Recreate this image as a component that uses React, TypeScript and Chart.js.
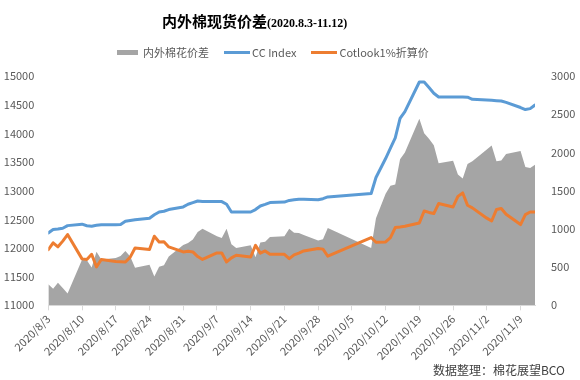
import React, { useEffect, useRef } from 'react';
import { Chart, registerables } from 'chart.js';

Chart.register(...registerables);

const FONT = '"Noto Sans CJK SC", "Noto Sans", sans-serif';

const dates = [
  '2020/8/3', '2020/8/4', '2020/8/5', '2020/8/6', '2020/8/7',
  '2020/8/10', '2020/8/11', '2020/8/12', '2020/8/13', '2020/8/14',
  '2020/8/17', '2020/8/18', '2020/8/19', '2020/8/20', '2020/8/21',
  '2020/8/24', '2020/8/25', '2020/8/26', '2020/8/27', '2020/8/28',
  '2020/8/31', '2020/9/1', '2020/9/2', '2020/9/3', '2020/9/4',
  '2020/9/7', '2020/9/8', '2020/9/9', '2020/9/10', '2020/9/11',
  '2020/9/14', '2020/9/15', '2020/9/16', '2020/9/17', '2020/9/18',
  '2020/9/21', '2020/9/22', '2020/9/23', '2020/9/24', '2020/9/25',
  '2020/9/28', '2020/9/29', '2020/9/30',
  '2020/10/9', '2020/10/10',
  '2020/10/12', '2020/10/13', '2020/10/14', '2020/10/15', '2020/10/16',
  '2020/10/19', '2020/10/20', '2020/10/21', '2020/10/22', '2020/10/23',
  '2020/10/26', '2020/10/27', '2020/10/28', '2020/10/29', '2020/10/30',
  '2020/11/2', '2020/11/3', '2020/11/4', '2020/11/5', '2020/11/6',
  '2020/11/9', '2020/11/10', '2020/11/11', '2020/11/12',
];

const spread = [
  275, 215, 295, 225, 155,
  595, 590, 495, 700, 600,
  620, 645, 710, 640, 490,
  530, 378, 505, 525, 640,
  790, 815, 860, 960, 1000,
  905, 880, 1000, 800, 750,
  785, 630, 820, 830, 895,
  905, 1000, 950, 945, 920,
  848, 865, 1010,
  750, 1140,
  1460, 1565, 1580, 1910, 2000,
  2440, 2250, 2180, 2095, 1860,
  1890, 1710, 1660, 1850, 1885,
  2040, 2090, 1885, 1895, 1980,
  2020, 1810, 1795, 1840,
];

const ccIndex = [
  12262, 12321, 12330, 12345, 12390,
  12415, 12388, 12380, 12395, 12405,
  12405, 12408, 12465, 12480, 12492,
  12518, 12580, 12628, 12640, 12670,
  12716, 12762, 12790, 12820, 12809,
  12809, 12809, 12762, 12628, 12628,
  12628, 12670, 12733, 12760, 12792,
  12800, 12830, 12840, 12850, 12850,
  12840, 12860, 12890,
  12950, 13230,
  13560, 13740, 13920, 14260, 14380,
  14895, 14895, 14800, 14700, 14634,
  14634, 14634, 14634, 14630, 14594,
  14580, 14576, 14570, 14564, 14540,
  14450, 14414, 14431, 14494,
];

const cotlook = [
  11970, 12090, 12020, 12120, 12234,
  11810, 11798, 11890, 11669, 11798,
  11765, 11760, 11755, 11840, 12000,
  11975, 12204, 12105, 12110, 12018,
  11931, 11943, 11931, 11850, 11800,
  11913, 11913, 11756, 11828, 11873,
  11843, 12047, 11910, 11948, 11890,
  11890, 11815, 11880, 11910, 11948,
  11990, 11980, 11856,
  12182, 12100,
  12105, 12180, 12356, 12367, 12380,
  12437, 12646, 12620, 12600, 12775,
  12716, 12900, 12960, 12745, 12700,
  12520, 12471, 12670, 12687, 12588,
  12408, 12583, 12628, 12628,
];

const tickLabels = [
  '2020/8/3', '2020/8/10', '2020/8/17', '2020/8/24', '2020/8/31',
  '2020/9/7', '2020/9/14', '2020/9/21', '2020/9/28', '2020/10/5',
  '2020/10/12', '2020/10/19', '2020/10/26', '2020/11/2', '2020/11/9',
];

const seriesNames = ['内外棉花价差', 'CC Index', 'Cotlook1%折算价'];
const seriesColors = ['#a5a5a5', '#5b9bd5', '#ed7d31'];

const toDay = (s: string) => {
  const [y, m, d] = s.split('/').map(Number);
  const [y0, m0, d0] = dates[0].split('/').map(Number);
  return Math.round((Date.UTC(y, m - 1, d) - Date.UTC(y0, m0 - 1, d0)) / 86400000);
};
const lastDay = toDay(dates[dates.length - 1]);
const points = (vals: number[]) => dates.map((d, i) => ({ x: toDay(d), y: vals[i] }));

export default function App() {
  const ref = useRef<HTMLCanvasElement>(null);
  useEffect(() => {
    const tickFont = { family: FONT, size: 11 };
    const chart = new Chart(ref.current!, {
      type: 'line',
      data: {
        datasets: [
          {
            label: seriesNames[0],
            data: points(spread),
            yAxisID: 'y1',
            fill: 'origin',
            backgroundColor: seriesColors[0],
            borderColor: 'rgba(0,0,0,0)',
            borderWidth: 0,
            pointRadius: 0,
            tension: 0,
            order: 3,
          },
          {
            label: seriesNames[1],
            data: points(ccIndex),
            yAxisID: 'y',
            fill: false,
            borderColor: seriesColors[1],
            borderWidth: 3,
            borderJoinStyle: 'round',
            borderCapStyle: 'round',
            pointRadius: 0,
            tension: 0,
            order: 2,
          },
          {
            label: seriesNames[2],
            data: points(cotlook),
            yAxisID: 'y',
            fill: false,
            borderColor: seriesColors[2],
            borderWidth: 3,
            borderJoinStyle: 'round',
            borderCapStyle: 'round',
            pointRadius: 0,
            tension: 0,
            order: 1,
          },
        ],
      },
      options: {
        responsive: false,
        animation: false,
        devicePixelRatio: 1,
        layout: { padding: { top: 76, left: 0, right: 0, bottom: 0 } },
        plugins: {
          legend: { display: false },
          title: { display: false },
          tooltip: { enabled: false },
        },
        scales: {
          x: {
            type: 'linear',
            min: 0,
            max: lastDay,
            afterFit: (s: any) => { s.height = 74.7; },
            ticks: {
              stepSize: 7,
              includeBounds: false,
              autoSkip: false,
              maxRotation: 45,
              minRotation: 45,
              padding: 2,
              color: '#595959',
              font: tickFont,
              callback: (v: any) => tickLabels[Math.round(Number(v) / 7)] ?? '',
            },
            grid: { drawOnChartArea: false, drawTicks: true, tickLength: 5, color: '#d9d9d9' },
            border: { display: true, color: '#d9d9d9' },
          },
          y: {
            position: 'left',
            min: 11000,
            max: 15000,
            afterFit: (s: any) => { s.width = 48.3; },
            ticks: { stepSize: 500, padding: 14, color: '#595959', font: tickFont, callback: (v: any) => String(v) },
            grid: { display: false, drawTicks: false },
            border: { display: false },
          },
          y1: {
            position: 'right',
            min: 0,
            max: 3000,
            afterFit: (s: any) => { s.width = 45; },
            ticks: { stepSize: 500, padding: 16, color: '#595959', font: tickFont, callback: (v: any) => String(v) },
            grid: { display: false, drawTicks: false },
            border: { display: false },
          },
        },
      },
    } as any);
    return () => chart.destroy();
  }, []);

  const swatch = (i: number) =>
    i === 0
      ? { width: 21, height: 5, background: seriesColors[0] }
      : { width: 26, height: 3, background: seriesColors[i] };

  return (
    <div style={{ position: 'fixed', left: 0, top: 0, width: 580, height: 380, background: '#fff', fontFamily: FONT }}>
      <canvas ref={ref} width={580} height={380} style={{ position: 'absolute', left: 0, top: 0 }} />
      <div style={{ position: 'absolute', left: 162, top: 9, whiteSpace: 'nowrap', lineHeight: '22px', color: '#000' }}>
        <span style={{ fontSize: 15, fontWeight: 'bold' }}>内外棉现货价差</span>
        <span style={{ fontSize: 12, fontWeight: 'bold', fontFamily: '"Liberation Serif", serif' }}>(2020.8.3-11.12)</span>
      </div>
      <div style={{ position: 'absolute', left: 117, top: 43, display: 'flex', alignItems: 'center', whiteSpace: 'nowrap', fontSize: 11, color: '#595959', lineHeight: '18px' }}>
        {seriesNames.map((n, i) => (
          <div key={n} style={{ display: 'flex', alignItems: 'center', marginRight: 15 }}>
            <span style={{ display: 'inline-block', marginRight: i === 0 ? 5 : 2, ...swatch(i) }} />
            <span>{n}</span>
          </div>
        ))}
      </div>
      <div style={{ position: 'absolute', right: 15, top: 361, fontSize: 12, color: '#404040', whiteSpace: 'nowrap', lineHeight: '18px' }}>
        数据整理：棉花展望BCO
      </div>
    </div>
  );
}
